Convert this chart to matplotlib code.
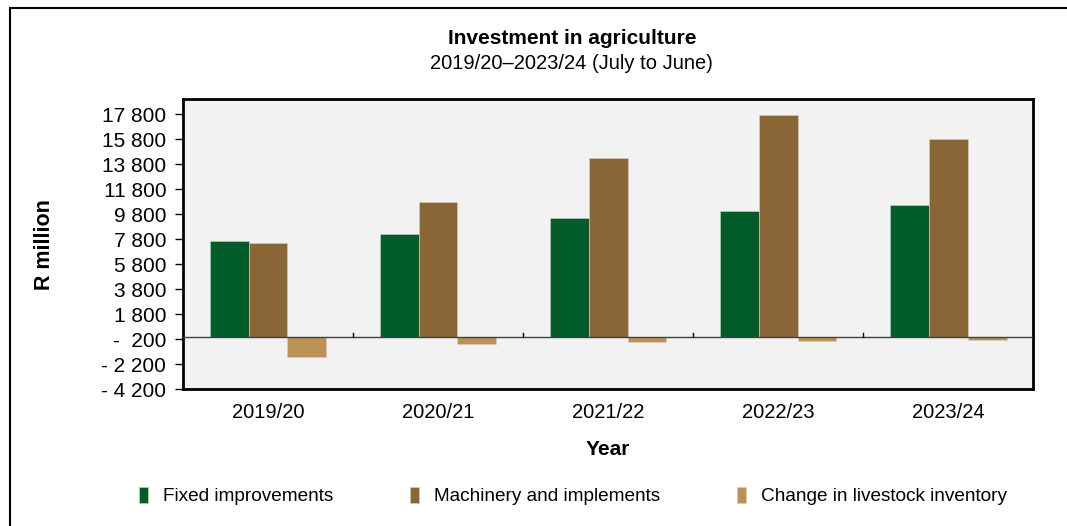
import matplotlib
matplotlib.use('Agg')
import matplotlib.pyplot as plt
import numpy as np
from matplotlib.patches import Rectangle

plt.rcParams['font.family'] = ['Liberation Sans', 'DejaVu Sans']

years = ['2019/20', '2020/21', '2021/22', '2022/23', '2023/24']
fixed = [7690, 8230, 9500, 10070, 10550]
machinery = [7480, 10790, 14300, 17730, 15810]
livestock = [-1650, -580, -420, -370, -265]
series_names = ['Fixed improvements', 'Machinery and implements', 'Change in livestock inventory']
colors = ['#005C28', '#8A6536', '#BC9156']

yticks = list(range(-4200, 17801, 2000))


def fmt(v):
    s = '{:,}'.format(abs(v)).replace(',', ' ')
    if v < 0:
        return ('-  ' if abs(v) < 1000 else '- ') + s
    return s


fig = plt.figure(figsize=(10.67, 5.26), dpi=100)
fig.patches.append(Rectangle((0.009, -0.01), 1.2, 0.995, transform=fig.transFigure,
                             fill=False, edgecolor='black', linewidth=1.5))

ax = fig.add_axes([0.1715, 0.26, 0.797, 0.551])
ax.set_facecolor('#F2F2F2')

x = np.arange(len(years))
w = 0.228
for i, (vals, name) in enumerate(zip([fixed, machinery, livestock], series_names)):
    ax.bar(x + (i - 1) * w, vals, w, color=colors[i], label=name,
           edgecolor='#D8D0C0', linewidth=0.4, zorder=2)

ax.axhline(0, color='#404040', linewidth=1, zorder=3)
# small category separator ticks on the zero line
for b in x[:-1] + 0.5:
    ax.plot([b, b], [0, 300], color='black', linewidth=1, zorder=3)

ax.set_xlim(-0.5, len(years) - 0.5)
ax.set_ylim(-4200, 19000)
ax.set_yticks(yticks)
ax.set_yticklabels([fmt(v) for v in yticks], fontsize=15)
ax.set_xticks(x)
ax.set_xticklabels(years, fontsize=14.5)
ax.tick_params(axis='x', length=0, pad=10)
ax.tick_params(axis='y', length=6, width=1, direction='out', pad=6)
for s in ax.spines.values():
    s.set_linewidth(2)
ax.set_xlabel('Year', fontsize=15, fontweight='bold')
ax.xaxis.set_label_coords(0.5, -0.176)
ax.set_ylabel('R million', fontsize=15.5, fontweight='bold')
ax.yaxis.set_label_coords(-0.15, 0.5)

fig.text(0.536, 0.926, 'Investment in agriculture', ha='center', va='center',
         fontsize=15, fontweight='bold')
fig.text(0.536, 0.88, '2019/20\u20132023/24 (July to June)', ha='center', va='center',
         fontsize=14.5)

fig.legend(loc='center', bbox_to_anchor=(0.537, 0.057), ncol=3, frameon=False,
           fontsize=13.7, handlelength=0.5, handleheight=0.9, handletextpad=0.8,
           columnspacing=4.0)

fig.savefig('out.png', dpi=100)
